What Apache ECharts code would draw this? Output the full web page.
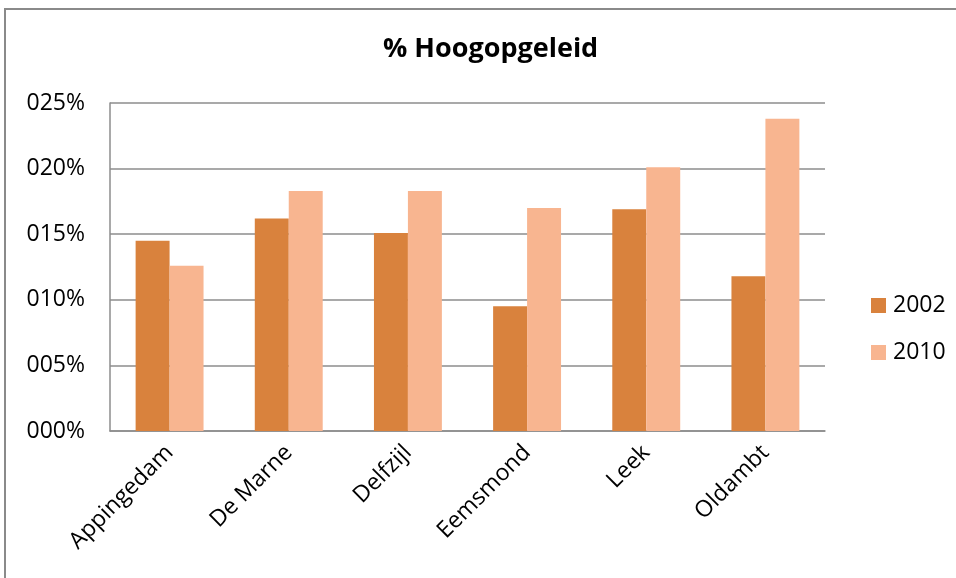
<!DOCTYPE html>
<html>
<head>
<meta charset="utf-8">
<script src="https://cdn.jsdelivr.net/npm/echarts@6/dist/echarts.min.js"></script>
<style>html,body{margin:0;padding:0;background:#fff}#c{width:956px;height:578px}</style>
</head>
<body>
<div id="c"></div>
<script>
const categories = ['Appingedam', 'De Marne', 'Delfzijl', 'Eemsmond', 'Leek', 'Oldambt'];
const series2002 = [14.5, 16.2, 15.1, 9.5, 16.9, 11.8];
const series2010 = [12.6, 18.3, 18.3, 17.0, 20.1, 23.8];
const seriesNames = ['2002', '2010'];
const yTicks = [0, 5, 10, 15, 20, 25];

const FONT = '"Open Sans", sans-serif';
const chart = echarts.init(document.getElementById('c'), null, {renderer: 'canvas'});
chart.setOption({
  animation: false,
  backgroundColor: '#fff',
  title: {
    text: '% Hoogopgeleid',
    left: 378,
    top: 31,
    textStyle: {fontFamily: FONT, fontWeight: 'bold', fontSize: 27, color: '#000'}
  },
  graphic: [{
    type: 'rect',
    shape: {x: 5, y: 9, width: 1000, height: 1000},
    style: {fill: 'none', stroke: '#8a8a8a', lineWidth: 2},
    silent: true
  }],
  legend: {
    orient: 'vertical',
    left: 866,
    top: 289,
    itemWidth: 15,
    itemHeight: 15,
    itemGap: 24,
    icon: 'rect',
    textStyle: {fontFamily: FONT, fontSize: 23, color: '#000', padding: [0, 0, 0, 2]},
    data: seriesNames
  },
  grid: {left: 110, right: 131, top: 103, bottom: 147, containLabel: false},
  xAxis: {
    type: 'category',
    data: categories,
    axisLine: {lineStyle: {color: '#8c8c8c', width: 1.5}},
    axisTick: {show: false},
    axisLabel: {rotate: 45, margin: 18, fontFamily: FONT, fontSize: 23, color: '#000', interval: 0}
  },
  yAxis: {
    type: 'value',
    min: yTicks[0],
    max: yTicks[yTicks.length - 1],
    interval: 5,
    axisLine: {show: true, lineStyle: {color: '#8c8c8c', width: 1.5}},
    axisTick: {show: false},
    splitLine: {lineStyle: {color: '#8c8c8c', width: 1.5}},
    axisLabel: {
      margin: 25,
      fontFamily: FONT, fontSize: 23, color: '#000',
      formatter: v => String(v).padStart(3, '0') + '%'
    }
  },
  series: [
    {name: seriesNames[0], type: 'bar', data: series2002, barGap: '0%', barCategoryGap: '43%', itemStyle: {color: '#D9823D'}},
    {name: seriesNames[1], type: 'bar', data: series2010, barGap: '0%', barCategoryGap: '43%', itemStyle: {color: '#F8B590'}}
  ]
});
</script>
</body>
</html>
